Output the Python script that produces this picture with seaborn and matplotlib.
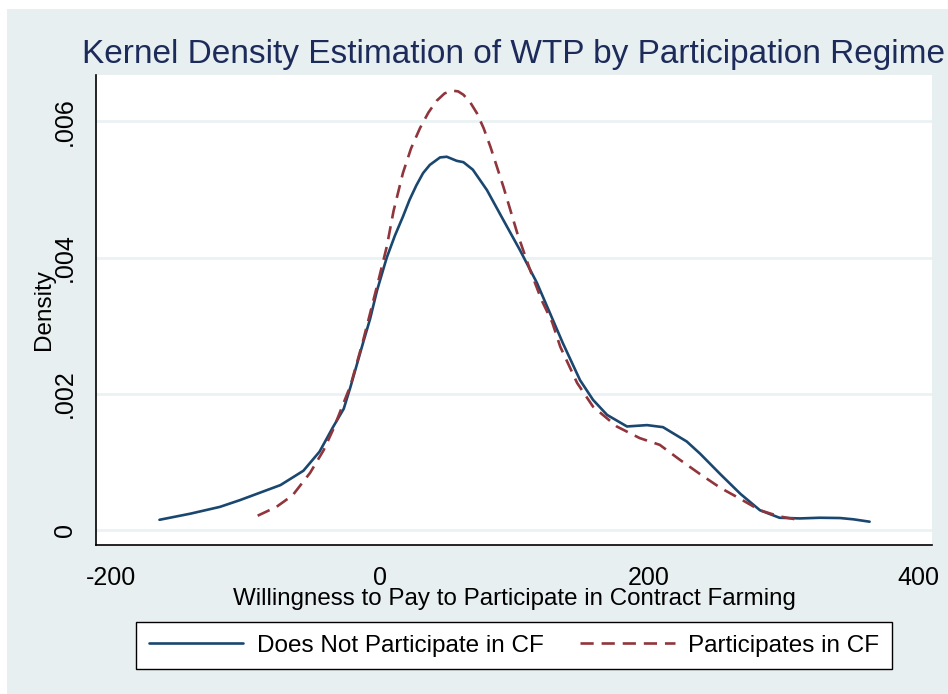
import numpy as np
import pandas as pd
import matplotlib.pyplot as plt
from matplotlib.patches import Rectangle
import seaborn as sns

# Kernel density curves
nonpart_wtp = [-164, -141, -119, -104, -89, -74, -57, -45, -35, -27, -22, -12.6, -7.4,
               -2.2, 5, 11, 17, 22, 27, 32, 37, 44.6, 49.6, 57, 62, 69, 79.5, 91.7, 104,
               116.6, 126, 136, 148.7, 158.4, 168.8, 183.6, 198.5, 210.4, 228, 238, 253,
               268, 282.5, 297, 312, 327, 342, 352, 364]
nonpart_density = [0.00015, 0.00024, 0.00034, 0.00044, 0.00055, 0.00066, 0.00087, 0.00115,
                   0.00151, 0.00178, 0.00210, 0.00275, 0.00310, 0.00352, 0.00400, 0.00432,
                   0.00460, 0.00485, 0.00506, 0.00524, 0.00536, 0.00547, 0.00548, 0.00542,
                   0.00540, 0.00529, 0.00499, 0.00455, 0.00411, 0.00363, 0.00320, 0.00274,
                   0.00220, 0.00191, 0.00169, 0.00152, 0.00154, 0.00151, 0.00130, 0.00112,
                   0.00082, 0.00053, 0.00029, 0.00018, 0.00017, 0.00018, 0.000176,
                   0.000157, 0.000122]

part_wtp = [-91, -77, -65, -52, -42, -35, -22, -13, -8.7, -2, 5, 10, 17, 23, 29.7, 36, 42,
            48, 53.5, 58, 62, 67, 72, 77, 82, 91.7, 102, 111.5, 120, 128, 134, 146.5,
            158.4, 176, 193, 208, 223, 238, 253, 267.6, 282.5, 297, 311]
part_density = [0.00021, 0.00034, 0.00051, 0.00084, 0.00117, 0.00147, 0.00212, 0.00275,
                0.00308, 0.00360, 0.00416, 0.00468, 0.00524, 0.00560, 0.00590, 0.00613,
                0.00630, 0.00641, 0.00645, 0.00644, 0.00639, 0.00628, 0.00612, 0.00590,
                0.00563, 0.00504, 0.00436, 0.00382, 0.00338, 0.00305, 0.00269, 0.00216,
                0.00181, 0.00152, 0.00135, 0.00125, 0.00103, 0.00082, 0.00062, 0.00046,
                0.00029, 0.00020, 0.00015]

series_labels = ["Does Not Participate in CF", "Participates in CF"]
x_ticks = [-200, 0, 200, 400]
y_ticks = [0, 0.002, 0.004, 0.006]
y_ticklabels = ["0", ".002", ".004", ".006"]

sns.set_theme(style="white")
plt.rcParams['font.family'] = ['Liberation Sans', 'DejaVu Sans']
plt.rcParams['text.color'] = 'black'
plt.rcParams['axes.labelcolor'] = 'black'

W, H = 948, 694
fig = plt.figure(figsize=(W / 100, H / 100), dpi=100)
fig.patch.set_facecolor("white")
fig.patches.append(Rectangle((7 / W, 0), 1, 685 / H, transform=fig.transFigure,
                             facecolor="#E8EFF1", edgecolor="none", zorder=-10))

ax = fig.add_axes([96 / W, 1 - 545 / H, (932 - 96) / W, (545 - 75) / H])
ax.set_facecolor("white")

sns.lineplot(x=nonpart_wtp, y=nonpart_density, ax=ax, color="#1A476F", lw=1.9,
             label=series_labels[0])
sns.lineplot(x=part_wtp, y=part_density, ax=ax, color="#90353B", lw=1.9,
             label=series_labels[1])
ax.lines[1].set_dashes([5, 3])
ax.get_legend().remove()

ax.set_xlim(-211.2, 410.4)
ax.set_ylim(-0.00022, 0.00668)
ax.set_xticks(x_ticks)
ax.set_xticklabels([str(t) for t in x_ticks])
ax.set_yticks(y_ticks)
ax.set_yticklabels(y_ticklabels, rotation=90, va="center")

ax.yaxis.grid(True, color="#EAF2F3", lw=2)
ax.xaxis.grid(False)
ax.set_axisbelow(True)
for side in ["top", "right"]:
    ax.spines[side].set_visible(False)
for side in ["left", "bottom"]:
    ax.spines[side].set_color("black")
    ax.spines[side].set_linewidth(1.2)

ax.tick_params(axis="both", direction="out", length=10, width=1.2, color="#333333",
               labelsize=18, labelcolor="black")
ax.tick_params(axis="x", pad=5)
ax.tick_params(axis="y", pad=4)

ax.set_xlabel("Willingness to Pay to Participate in Contract Farming", fontsize=17.4,
              color="black")
ax.set_ylabel("Density", fontsize=17.5, color="black")
ax.xaxis.set_label_coords(0.5, -(588 - 545) / 470)
ax.yaxis.set_label_coords(-(96 - 55) / 836, 0.5)

fig.text(82 / W, 1 - 63 / H, "Kernel Density Estimation of WTP by Participation Regime",
         fontsize=24, color="#1C2B5A", ha="left", va="baseline")

leg = fig.legend(handles=ax.lines[:2], labels=series_labels, loc="center",
                 bbox_to_anchor=(514 / W, 1 - 645.5 / H), ncol=2, fontsize=17.5,
                 frameon=True, fancybox=False, edgecolor="black", facecolor="white",
                 framealpha=1, handlelength=3.9, handletextpad=0.55, columnspacing=1.5,
                 borderpad=0.5)
leg.get_frame().set_linewidth(1.0)
for t in leg.get_texts():
    t.set_color("black")

fig.savefig("out.png", dpi=100)
